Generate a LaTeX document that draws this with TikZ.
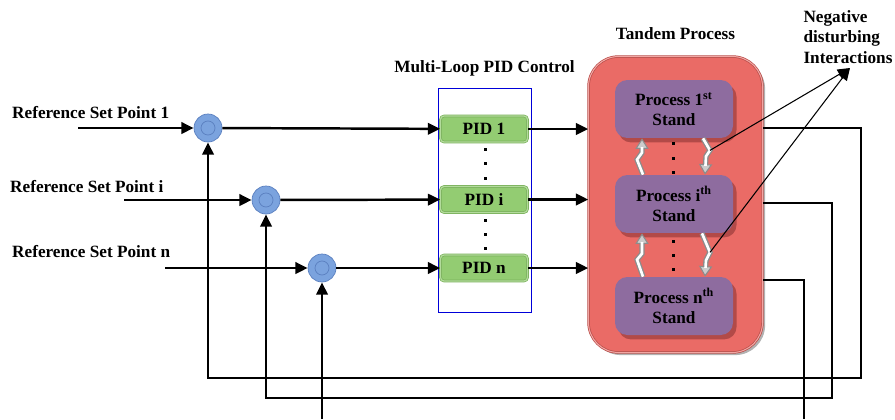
\documentclass[tikz,border=0pt]{standalone}
\usepackage{fontspec}
\setmainfont{Liberation Serif}
\usetikzlibrary{positioning,arrows.meta,shadows}
\definecolor{sumblue}{HTML}{7BA3DE}
\definecolor{sumedge}{HTML}{5B80C0}
\definecolor{pidgreen}{HTML}{93CC72}
\definecolor{pidedge}{HTML}{79B05A}
\definecolor{tandemred}{HTML}{EA6B66}
\definecolor{tandemedge}{HTML}{B84C48}
\definecolor{procpurple}{HTML}{8E6C9F}
\definecolor{procshadow}{HTML}{B24A48}
\begin{document}
\begin{tikzpicture}[x=0.02cm,y=-0.02cm,
 font=\bfseries\fontsize{9.8}{11.5}\selectfont,
 sum/.style={circle,fill=sumblue,draw=sumedge,minimum size=0.56cm,inner sep=0pt,
  path picture={\draw[sumedge] (path picture bounding box.center) circle (0.14cm);}},
 pid/.style={draw=pidedge,fill=pidgreen,rounded corners=2pt,double=pidgreen!70!white,
  double distance=0.7pt,minimum width=1.74cm,minimum height=0.52cm,inner sep=0pt},
 proc/.style={fill=procpurple,rounded corners=7pt,minimum width=2.36cm,minimum height=1.16cm,
  align=center,inner sep=0pt,
  drop shadow={fill=procshadow,opacity=1,shadow xshift=2pt,shadow yshift=-2.5pt}},
 tandembox/.style={fill=tandemred,draw=tandemedge,double=tandemred!60!white,double distance=0.6pt,
  rounded corners=0.6cm,minimum width=3.48cm,minimum height=5.92cm,
  drop shadow={fill=black!30,opacity=1,shadow xshift=1.5pt,shadow yshift=-1.5pt}},
 line/.style={line width=1.4pt,-{Triangle[length=7pt,width=6.5pt]}},
 fb/.style={line width=1.4pt},
 hollow/.style={draw=black!45,line width=3pt,line join=miter,
  -{Triangle[length=6pt,width=7.5pt,fill=black!20,color=black!45,line width=0.6pt]},
  postaction={draw=white,line width=1.5pt,-,shorten >=5pt}},
 thinarrow/.style={line width=0.6pt,-{Triangle[length=7pt,width=6pt]}},
 ]
 \useasboundingbox (0,0) rectangle (895,419);

 % set points
 \node[anchor=west] (ref1) at (6,113) {Reference Set Point 1};
 \node[anchor=west] (refi) at (4,187) {Reference Set Point i};
 \node[anchor=west] (refn) at (6,252) {Reference Set Point n};
 \coordinate (r1) at (78,128);
 \coordinate (ri) at (124,200);
 \coordinate (rn) at (165,268);
 \node[sum] (sum1) at (208,128) {};
 \node[sum] (sumi) at (266,200) {};
 \node[sum] (sumn) at (322,268) {};

 % multi-loop controller
 \node[draw=blue!85!black,minimum width=1.86cm,minimum height=4.48cm] (ctrl) at (484.5,200) {};
 \node[above=0.1cm of ctrl] (ctrltitle) {Multi-Loop PID Control};
 \node[pid] (pid1) at (484,129) {PID 1};
 \node[pid] (pidi) at (484,199.5) {PID i};
 \node[pid] (pidn) at (484,268) {PID n};
 \foreach \y in {148,162,177,219,233,247}
  \fill (484,\y) rectangle +(2.6,2.6);

 % tandem process
 \node[tandembox] (tandem) at (675.5,204.5) {};
 \node[above=0.2cm of tandem] (tandemtitle) {Tandem Process};
 \node[proc] (p1) at (674,109) {Process 1\textsuperscript{st}\\Stand};
 \node[proc] (pi) at (674,204) {Process i\textsuperscript{th}\\Stand};
 \node[proc] (pn) at (674,306) {Process n\textsuperscript{th}\\Stand};
 \foreach \y in {142,157,171,240,254,268}
  \fill (672,\y) rectangle +(2.6,2.6);

 % interactions between stands
 \draw[hollow] ([xshift=-0.62cm]pi.north) -- ++(-6,-15) -- ++(5,-7) -- ([xshift=-0.64cm]p1.south);
 \draw[hollow] ([xshift=-0.62cm]pn.north) -- ++(-6,-17) -- ++(5,-6) -- ([xshift=-0.64cm]pi.south);
 \draw[hollow] ([xshift=0.58cm]p1.south) -- ++(7,12) coordinate (k1) -- ++(-4,6) -- ([xshift=0.62cm]pi.north);
 \draw[hollow] ([xshift=0.56cm]pi.south) -- ++(8,19) coordinate (k2) -- ++(-4,8) -- ([xshift=0.62cm]pn.north);
 \node[align=left,inner sep=0pt] (neg) at (848,37) {Negative\\disturbing\\Interactions};
 \coordinate (negtip) at (850,68);
 \draw[thinarrow] (k1) -- (negtip);
 \draw[thinarrow] (k2) -- (negtip);

 % forward paths
 \draw[line] (r1) -- (sum1);
 \draw[line] (ri) -- (sumi);
 \draw[line] (rn) -- (sumn);
 \draw[line] (sum1) -- (pid1);
 \draw[line] (sumi) -- (pidi);
 \draw[line] (sumn) -- (pidn);
 \draw[line] (pid1) -- (pid1 -| tandem.west);
 \draw[line] (pidi) -- (pidi -| tandem.west);
 \draw[line] (pidn) -- (pidn -| tandem.west);

 % feedback paths
 \coordinate (fb1) at (861,378);
 \coordinate (fbi) at (832,398);
 \coordinate (fbn) at (804,419);
 \coordinate (bn) at (322,419);
 \draw[line] (tandem.east |- 0,128) -| (fb1) -| (sum1);
 \draw[line] (tandem.east |- 0,203) -| (fbi) -| (sumi);
 \draw[fb] (tandem.east |- 0,280) -| (fbn);
 \draw[line] (bn) -- (sumn);
\end{tikzpicture}
\end{document}
